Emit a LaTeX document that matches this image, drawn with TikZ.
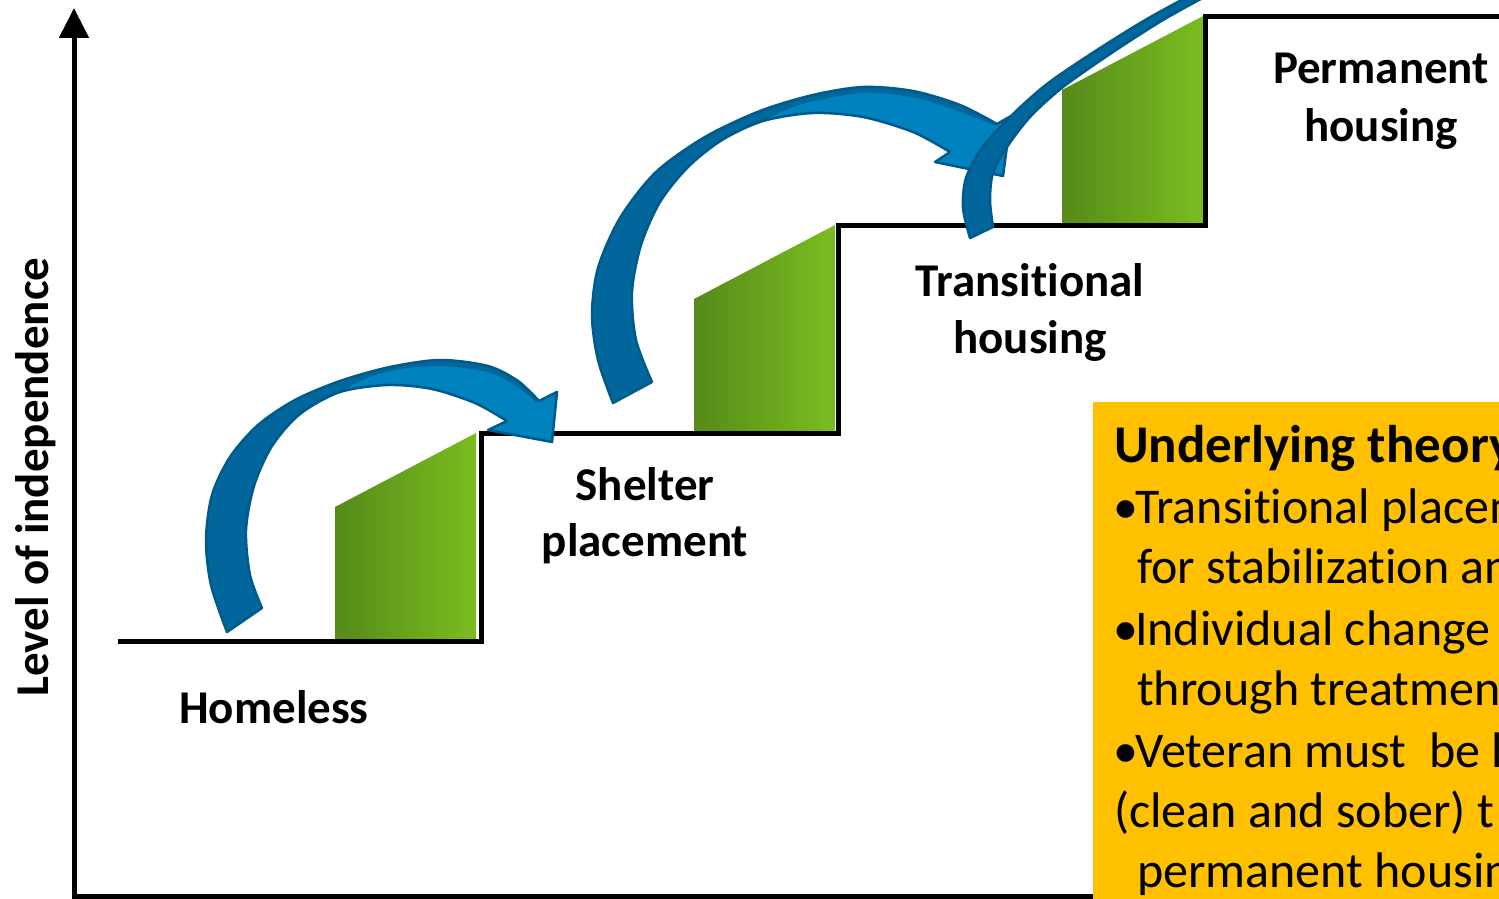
\documentclass[tikz,border=0pt]{standalone}
\usepackage{fontspec}
\setmainfont{Carlito}[Ligatures=NoCommon]
\usetikzlibrary{arrows.meta}

\definecolor{greenL}{HTML}{568A1A}
\definecolor{greenR}{HTML}{7ABD20}
\definecolor{blueback}{HTML}{00669B}
\definecolor{bluefront}{HTML}{0082BF}
\definecolor{blueedge}{HTML}{005B8A}
\definecolor{theorybg}{HTML}{FFC000}

% outlines of the curved arrows (x right, y down)
\def\arrowOneOutline{plot[smooth] coordinates {(227,632) (211,585) (206,540) (212,495) (230,457) (258,425) (295,400) (340,381) (390,367) (440,360) (488,366) (518,381) (539,401)} -- (557,392) -- (552,442) -- (488,430) -- plot[smooth] coordinates {(507,421) (475,403) (432,389) (388,385) (340,392) (300,414) (272,446) (254,486) (246,530) (250,575) (262,608)} -- cycle}
\def\arrowOneFront{plot[smooth] coordinates {(340,392) (365,379) (395,370) (440,366) (487,372) (516,386) (537,403)} -- (557,392) -- (552,442) -- (488,430) -- plot[smooth] coordinates {(507,421) (475,403) (432,389) (388,385) (340,392)} -- cycle}

\def\arrowTwoOutline{plot[smooth] coordinates {(613,403) (598,360) (592,315) (598,268) (620,218) (656,172) (705,137) (760,111) (813,95) (863,87) (913,91) (960,105) (997,124)} -- (1011,116) -- (1003,176) -- (935,162) -- plot[smooth] coordinates {(950,152) (913,132) (863,117) (813,113) (763,121) (722,140) (688,167) (660,202) (641,245) (632,292) (636,340) (652,382)} -- cycle}
\def\arrowTwoFront{plot[smooth] coordinates {(763,121) (790,108) (820,100) (863,93) (912,97) (958,111) (995,126)} -- (1011,116) -- (1003,176) -- (935,162) -- plot[smooth] coordinates {(950,152) (913,132) (863,117) (813,113) (763,121)} -- cycle}

\def\arrowThreeOutline{plot[smooth] coordinates {(970,238) (963,208) (966,178) (982,148) (1010,117) (1047,84) (1097,50) (1147,19) (1200,-10)} -- (1215,-4) -- plot[smooth] coordinates {(1210,-6) (1163,20) (1113,52) (1063,87) (1030,117) (1007,147) (993,173) (990,200) (993,227)} -- cycle}

\newcommand\bul{•\kern-3pt}

\begin{document}
\begin{tikzpicture}[x=1pt,y=-1pt,
  lab/.style={font=\bfseries\fontsize{47}{56}\selectfont, anchor=base, inner sep=0pt},
  ttl/.style={font=\bfseries\fontsize{53}{60}\selectfont, anchor=base west, inner sep=0pt},
  body/.style={font=\fontsize{50}{60}\selectfont, anchor=base west, inner sep=0pt},
  stair/.style={line width=5pt, line join=miter},
  axis/.style={line width=5pt},
  riser/.style={left color=greenL, right color=greenR},
  edge/.style={draw=blueedge, line width=2.5pt, line join=round}]

\useasboundingbox (0,0) rectangle (1499,899);
\clip (0,0) rectangle (1499,899);
\fill[white] (0,0) rectangle (1499,899);

% green risers of the stairs
\shade[riser] (335,641) -- (335,507) -- (476,433) -- (476,641) -- cycle;
\shade[riser] (694,433) -- (694,299) -- (835,225) -- (835,433) -- cycle;
\shade[riser] (1062,225) -- (1062,90) -- (1203,16) -- (1203,225) -- cycle;

% staircase
\coordinate (s0) at (118,641);
\coordinate (s1) at (481,641);
\coordinate (s2) at (481,433);
\coordinate (s3) at (838,433);
\coordinate (s4) at (838,225);
\coordinate (s5) at (1205,225);
\coordinate (s6) at (1205,17);
\coordinate (s7) at (1510,17);
\draw[stair] (s0) -- (s1) -- (s2) -- (s3) -- (s4) -- (s5) -- (s6) -- (s7);

% axes
\coordinate (orig) at (74,896);
\coordinate (ytop) at (74,8);
\coordinate (xend) at (1100,896);
\draw[axis, -{Triangle[width=29pt,length=30pt]}] (orig) -- (ytop);
\draw[axis] ([xshift=-2.5pt]orig) -- (xend);

% curved arrows between the stages
\fill[blueback] \arrowOneOutline;
\fill[bluefront] \arrowOneFront;
\draw[edge] \arrowOneOutline;

\fill[blueback] \arrowTwoOutline;
\fill[bluefront] \arrowTwoFront;
\draw[edge] \arrowTwoOutline;

\filldraw[edge, fill=blueback] \arrowThreeOutline;

% stage labels
\node[lab] (homeless) at (274,723) {Homeless};
\node[lab] (shelterA) at (645,500) {Shelter};
\node[lab] (shelterB) at (645,556) {placement};
\node[lab] (transA) at (1030,296) {Transitional};
\node[lab] (transB) at (1030,353) {housing};
\node[lab] (permA) at (1381,84) {Permanent};
\node[lab] (permB) at (1381,141) {housing};
\node[lab, rotate=90] (yaxislabel) at (48,477) {Level of independence};

% theory box
\fill[theorybg] (1093,402) rectangle (1510,905);
\node[ttl] (theory) at (1114,462) {Underlying theory};
\node[body] (bulletA) at (1113,523) {\bul Transitional placem};
\node[body] (bulletAb) at (1137,583) {for stabilization an};
\node[body] (bulletB) at (1113,645) {\bul Individual change};
\node[body] (bulletBb) at (1137,705) {through treatmen};
\node[body] (bulletC) at (1113,767) {\bul Veteran must\hspace{0.45em}be l};
\node[body] (bulletCb) at (1114,827) {(clean and sober) t};
\node[body] (bulletCc) at (1137,887) {permanent housin};
\end{tikzpicture}
\end{document}
